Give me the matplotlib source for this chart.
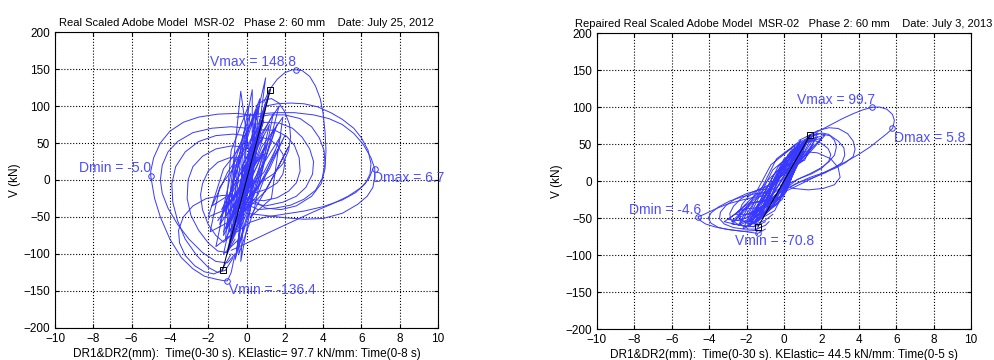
# hysteresis loops V vs D, MSR-02 phase 2, original and repaired model
import matplotlib.pyplot as plt

plt.rcParams['font.family'] = ['Liberation Sans', 'DejaVu Sans']

# ---------------- July 25, 2012 ----------------
left_core_a_x = [0.0, 0.5, -0.2, -0.5, 0.2, 0.8, 0.0, -0.8, 0.1, 1.0, 0.1, -1.0, 0.0,
                 1.2, 0.3, -0.6, 0.3, 0.3, -0.4, -0.9, 0.2, 1.0, 0.2, -0.5, 0.4,
                 -0.3, -0.7, -1.1, -0.1, 0.6, -0.3, -0.7, 0.5, 1.5, 0.4, -0.4, 0.6,
                 1.8, 0.6, -1.2, -0.4, 0.2, -0.8, -1.4, -0.3, 0.9, 0.0, -0.3, 0.2,
                 0.5, -0.5, -1.0, 0.0, 0.4]
left_core_a_y = [0, 50, 10, -45, -5, 80, 20, -75, -15, 105, 35, -100, -25,
                 122, 40, -108, -30, 122, 30, -90, -20, 138, 50, -95, -15,
                 120, 20, -80, -30, 100, 30, -60, -10, 70, 20, -50, -20,
                 60, 10, -70, -25, 90, 10, -60, -20, 80, 20, -110, -40,
                 95, 25, -65, -5, 40]
left_core_b_x = [0.0, 0.3, -0.3, -0.6, 0.1, 0.5, -0.4, -0.9, -0.1, 0.7, -0.2, -0.4, 0.4,
                 1.1, 0.2, -0.7, 0.3, 0.9, -0.5, -1.2, -0.2, 0.4, -0.6, -0.8, 0.0, 0.6]
left_core_b_y = [0, 30, 0, -40, -10, 55, 10, -55, -15, 65, 20, -70, -20,
                 50, 0, -45, -10, 35, -5, -40, -5, 60, 15, -30, 0, 45]
left_core_c_x = [0.6, -0.5, -1.1, 0.0, 0.9, -0.4, -1.3, 0.2, 0.4, -0.6, -0.9, 0.3,
                 1.2, 0.1, -0.8, 0.1, 0.7, -0.2, -0.4, 0.4, 1.4, 0.2, -1.0, -0.2,
                 0.1, -0.8, -1.2, -0.3, 1.0, 0.0, -1.5, -0.5, 0.5]
left_core_c_y = [70, 25, -50, -10, 60, 5, -40, -5, 85, 35, -70, -25,
                 75, 20, -85, -35, 110, 50, -100, -40, 90, 30, -95, -40,
                 100, 40, -75, -30, 45, 0, -55, -15, 30]
left_core_d_x = [1.6, 1.0, 0.0, 0.8, 2.0, 1.2, -0.2, 1.0, 2.2, 1.4, 0.2, 1.3,
                 1.9, 0.8, -0.5, 0.6, 1.7, 0.6, -0.3, 0.9, 1.5]
left_core_d_y = [75, 30, -30, 0, 60, 15, -45, -15, 45, 5, -50, -25,
                 85, 45, -40, -10, 100, 55, -20, 10, 40]
left_core_e_x = [-0.2, -1.0, -1.8, -0.9, 0.0, -1.2, -2.0, -1.1, -0.3, -1.4, -1.9, -0.8,
                 -0.1, -1.1, -1.6, -0.6, 0.2, -0.7, -1.2, -0.4, 0.0]
left_core_e_y = [40, 10, -35, -20, 55, 15, -50, -40, 30, -10, -70, -55,
                 20, -30, -90, -70, 10, -40, -100, -80, -20]
left_loops = [
    ([0.5, -0.5, -1.5, -2.5, -3.3, -4.0, -4.5, -4.85, -5.0, -5.0, -4.8, -4.5, -4.0, -3.4,
      -2.8, -2.2, -1.6, -1.2, -1.0, -0.8, -0.6],
     [87, 90, 89, 85, 78, 66, 50, 30, 12, 5, -25, -50, -80, -105,
      -120, -130, -134, -136, -136.4, -125, -100]),
    ([-0.5, 0.5, 1.5, 2.5, 3.5, 4.3, 5.0, 5.6, 6.1, 6.5, 6.7, 6.7, 6.6, 6.3, 5.8, 5.0,
      4.0, 3.0, 2.0, 1.0, 0.0],
     [85, 89, 91, 91, 88, 83, 75, 63, 48, 30, 15, 5, -10, -22, -33, -45,
      -52, -53, -51, -48, -45]),
    ([0.9, 1.2, 1.6, 2.0, 2.4, 2.6, 2.9, 3.3, 3.6, 3.85, 4.0, 4.1, 4.15, 4.1, 3.9, 3.4,
      2.6, 1.8, 1.0, 0.2],
     [105, 122, 136, 145, 149, 148.8, 148, 140, 127, 110, 90, 65, 40, 15, -5, -22,
      -35, -40, -38, -25]),
    ([1.0, 1.6, 2.3, 3.0, 3.7, 4.4, 5.0, 5.6, 6.0, 6.35, 6.5, 6.45, 6.2, 5.7, 5.0, 4.0,
      3.0, 2.0, 1.0, 0.2, -0.5],
     [100, 103, 104, 103, 99, 91, 82, 70, 57, 40, 22, 8, -5, -17, -27, -36,
      -42, -46, -50, -57, -70]),
    ([-0.8, -0.2, 0.6, 1.5, 2.5, 3.5, 4.5, 5.3, 6.0, 6.4, 6.6],
     [-95, -88, -78, -67, -55, -43, -32, -22, -10, 2, 15]),
    ([0.0, -0.8, -1.8, -2.8, -3.6, -4.1, -4.4, -4.5, -4.4, -4.1, -3.6, -3.0, -2.3, -1.6,
      -1.0, -0.6],
     [70, 72, 70, 64, 52, 38, 20, 0, -18, -38, -60, -80, -98, -110, -112, -100]),
    ([0.0, -0.7, -1.6, -2.5, -3.2, -3.7, -3.9, -3.85, -3.6, -3.2, -2.6, -2.0, -1.5, -1.1, -0.7],
     [60, 62, 60, 52, 38, 18, -5, -30, -55, -80, -102, -118, -125, -122, -105]),
    ([-0.2, -0.8, -1.6, -2.3, -2.8, -3.05, -3.1, -2.9, -2.5, -2.0, -1.5, -1.0, -0.6],
     [45, 46, 42, 32, 18, 0, -25, -48, -68, -85, -96, -98, -80]),
    ([-0.3, -0.9, -1.5, -2.0, -2.3, -2.4, -2.3, -2.0, -1.6, -1.2, -0.8],
     [30, 30, 24, 12, -5, -20, -40, -60, -75, -84, -75]),
    ([-0.5, -1.3, -2.1, -2.8, -3.3, -3.55, -3.5, -3.2, -2.7, -2.2, -1.7, -1.3, -0.8],
     [-20, -21, -25, -35, -50, -68, -85, -102, -116, -124, -127, -122, -100]),
    ([0.5, 1.2, 2.0, 2.8, 3.4, 3.8, 4.05, 4.1, 3.95, 3.6, 3.0, 2.3, 1.5, 0.6, -0.2],
     [85, 88, 88, 83, 72, 57, 40, 22, 2, -14, -26, -34, -38, -40, -30]),
    ([0.4, 1.0, 1.7, 2.4, 2.9, 3.3, 3.5, 3.45, 3.1, 2.6, 1.9, 1.0, 0.0],
     [75, 78, 77, 70, 58, 42, 25, 8, -10, -22, -30, -35, -30]),
    ([0.3, 0.9, 1.5, 2.1, 2.5, 2.75, 2.8, 2.6, 2.2, 1.6, 0.9, 0.2, -0.3],
     [65, 68, 67, 59, 47, 30, 12, -4, -15, -24, -28, -26, -20]),
    ([0.5, 0.9, 1.3, 1.7, 2.0, 2.25, 2.3, 2.2, 1.9, 1.4, 0.8, 0.2, -0.2],
     [100, 108, 110, 104, 92, 75, 58, 40, 22, 8, -2, -4, 0]),
    ([0.2, 0.7, 1.2, 1.6, 1.9, 2.0, 1.9, 1.6, 1.1, 0.5, -0.3],
     [55, 58, 55, 47, 35, 22, 8, -4, -12, -17, -10]),
]
left_peak_x = [2.6, 6.7, -5.0, -1.0]
left_peak_y = [148.8, 15, 5, -136.4]
left_peak_text = ['Vmax = 148.8', 'Dmax = 6.7', 'Dmin = -5.0', 'Vmin = -136.4']
left_kelastic = 97.7
left_kel_d = 1.25

# ---------------- July 3, 2013 (repaired) ----------------
right_core_a_x = [0.0, 0.8, -0.3, -0.9, 0.2, 1.0, -0.2, -1.2, 0.1, 1.2, 0.0, -1.5, -0.1,
                  1.4, 0.1, -1.8, -0.3, 1.0, -0.3, -2.0, -0.6, 0.8, -0.6, -2.2, -0.5,
                  1.5, 0.3, -1.6, -0.1, 1.1, -0.1, -1.3, 0.1, 0.9, -0.5, -1.9, -0.2,
                  1.3, 0.2, -1.0, 0.3, 0.6]
right_core_a_y = [0, 38, 5, -35, -5, 45, 15, -45, -15, 55, 25, -52, -25,
                  62, 30, -60, -30, 50, 20, -62, -35, 45, 15, -65, -40,
                  60, 38, -58, -20, 52, 25, -50, -15, 45, 10, -55, -20,
                  58, 35, -45, -5, 30]
right_core_b_x = [0.0, 0.5, -0.6, -1.5, -0.2, 0.9, -0.4, -1.8, -0.4, 0.7, -0.9, -2.5, -1.0,
                  0.3, -1.2, -2.8, -1.3, 0.0, -1.5, -2.4, -0.8, 0.4]
right_core_b_y = [0, 25, -5, -40, -15, 30, 0, -45, -25, 40, 0, -50, -35,
                  20, -15, -55, -45, 5, -25, -60, -40, 15]
right_core_c_x = [1.2, 0.0, -1.2, 0.0, 1.6, 0.4, -1.6, -0.3, 0.9, -0.4, -2.0, -0.6,
                  1.8, 0.6, -1.4, -0.2, 0.6, -0.7, -2.4, -1.0, 1.1, -0.2, -1.7, -0.4, 0.8]
right_core_c_y = [50, 30, -30, -5, 58, 42, -45, -15, 55, 30, -50, -25,
                  60, 45, -55, -25, 48, 22, -58, -40, 40, 15, -48, -20, 35]
right_core_d_x = [1.5, 0.7, -0.2, 0.6, 2.0, 1.0, 0.0, 0.9, 2.2, 1.2, 0.2, 1.1,
                  1.8, 0.8, -0.3, 0.5, 1.6]
right_core_d_y = [55, 48, 10, 20, 58, 50, 15, 25, 62, 55, 20, 28,
                  65, 52, 5, 15, 50]
right_core_e_x = [-0.5, -1.6, -2.6, -1.5, -0.8, -1.9, -3.0, -1.8, -1.0, -2.2, -3.2, -2.0,
                  -0.6, -1.7, -2.8, -1.6, -0.7]
right_core_e_y = [-10, -20, -45, -45, -25, -30, -52, -55, -35, -38, -55, -62,
                  -25, -30, -58, -62, -20]
right_loops = [
    ([1.4, 1.9, 2.5, 3.1, 3.7, 4.2, 4.7, 5.1, 5.5, 5.8, 5.9, 5.85, 5.8, 5.5, 5.1, 4.6,
      4.0, 3.3, 2.5, 1.7, 0.9, 0.0],
     [62, 68, 76, 84, 91, 96, 99.7, 100, 97, 90, 82, 75, 71, 64, 56, 46,
      36, 26, 16, 6, -4, -15]),
    ([1.2, 1.8, 2.4, 2.9, 3.4, 3.7, 3.8, 3.7, 3.3, 2.8, 2.1, 1.4, 0.6, -0.5],
     [60, 68, 72, 71, 64, 54, 43, 33, 25, 18, 11, 5, -4, -20]),
    ([0.8, 1.3, 1.9, 2.5, 2.9, 3.2, 3.25, 3.1, 2.7, 2.2, 1.5, 0.8, -0.2],
     [55, 61, 64, 61, 54, 45, 35, 25, 18, 11, 4, -2, -15]),
    ([1.0, 1.5, 2.0, 2.4, 2.7, 2.8, 2.7, 2.4, 2.0, 1.4, 0.7, 0.2],
     [50, 60, 65, 63, 55, 46, 35, 26, 18, 10, 2, -8]),
    ([0.5, 1.0, 1.6, 2.0, 2.35, 2.5, 2.4, 2.0, 1.5, 0.9, 0.3, 0.0],
     [48, 53, 55, 51, 44, 36, 27, 17, 10, 4, -3, -10]),
    ([0.2, 1.0, 1.8, 2.5, 2.9, 3.0, 2.7, 2.1, 1.3, 0.5, -0.3],
     [35, 40, 38, 30, 18, 5, -5, -10, -12, -10, -5]),
    ([-1.0, -1.6, -2.3, -3.0, -3.6, -4.1, -4.45, -4.6, -4.5, -4.2, -3.7, -3.1, -2.5,
      -1.9, -1.4, -1.0],
     [-20, -22, -26, -31, -37, -43, -47, -48, -53, -58, -62, -65, -67,
      -69, -70.8, -65]),
    ([-0.8, -1.5, -2.2, -2.9, -3.5, -3.9, -4.05, -3.9, -3.5, -2.9, -2.2, -1.6, -1.2],
     [-15, -17, -21, -27, -35, -43, -50, -57, -63, -66, -68, -67, -62]),
    ([-0.6, -1.3, -2.0, -2.6, -3.1, -3.4, -3.45, -3.2, -2.7, -2.1, -1.5, -1.0, -0.8],
     [-10, -12, -17, -24, -33, -42, -51, -58, -63, -65, -65, -60, -55]),
    ([-0.5, -1.1, -1.7, -2.3, -2.7, -2.9, -2.85, -2.5, -2.0, -1.5, -1.0],
     [-5, -9, -15, -24, -34, -44, -52, -58, -62, -61, -55]),
    ([-0.3, -0.8, -1.4, -1.9, -2.25, -2.4, -2.3, -2.0, -1.5, -1.0, -0.6],
     [0, -5, -12, -21, -32, -43, -52, -57, -58, -53, -45]),
]
right_peak_x = [4.7, 5.8, -4.6, -1.4]
right_peak_y = [99.7, 71, -48, -70.8]
right_peak_text = ['Vmax = 99.7', 'Dmax = 5.8', 'Dmin = -4.6', 'Vmin = -70.8']
right_kelastic = 44.5
right_kel_d = 1.4

line_col = (0.22, 0.22, 1.0)
text_col = (0.3, 0.3, 1.0)


def panel(ax, cores, loops, px, py, ptext, tpos, kel, kd, title, xlabel):
    for cx, cy in cores:
        ax.plot(cx, cy, color=line_col, lw=0.7)
    for lx, ly in loops:
        ax.plot(lx, ly, color=line_col, lw=0.7)
    ax.plot(px, py, 'o', mfc='none', mec=line_col, ms=4, mew=0.7)
    for t, (tx, ty) in zip(ptext, tpos):
        ax.text(tx, ty, t, color=text_col, fontsize=10, ha='left', va='center')
    ax.plot([-kd, kd], [-kd * kel, kd * kel], color='k', lw=0.7)
    ax.plot([-kd, kd], [-kd * kel, kd * kel], 's', mfc='none', mec='k', ms=4, mew=0.7)
    ax.set_xlim(-10, 10)
    ax.set_ylim(-200, 200)
    ax.set_xticks(range(-10, 11, 2))
    ax.set_yticks(range(-200, 201, 50))
    ax.grid(True, color='k', ls=':', lw=0.8)
    ax.tick_params(direction='in', labelsize=8.5, top=True, right=True, length=3)
    for s in ax.spines.values():
        s.set_linewidth(0.8)
    ax.set_title(title, fontsize=8, pad=4)
    ax.set_xlabel(xlabel, fontsize=8.5, labelpad=2)
    ax.set_ylabel('V (kN)', fontsize=8.5, labelpad=2)


fig = plt.figure(figsize=(9.95, 3.6), dpi=100)
ax1 = fig.add_axes([0.0553, 0.0889, 0.3849, 0.8222])
ax2 = fig.add_axes([0.6, 0.0861, 0.3759, 0.8222])

left_cores = [(left_core_a_x, left_core_a_y), (left_core_b_x, left_core_b_y),
              (left_core_c_x, left_core_c_y), (left_core_d_x, left_core_d_y),
              (left_core_e_x, left_core_e_y)]
right_cores = [(right_core_a_x, right_core_a_y), (right_core_b_x, right_core_b_y),
               (right_core_c_x, right_core_c_y), (right_core_d_x, right_core_d_y),
               (right_core_e_x, right_core_e_y)]

panel(ax1, left_cores, left_loops,
      left_peak_x, left_peak_y, left_peak_text,
      [(-1.9, 159), (6.6, 3), (-8.75, 16), (-0.9, -148)],
      left_kelastic, left_kel_d,
      'Real Scaled Adobe Model  MSR-02   Phase 2: 60 mm    Date: July 25, 2012',
      'DR1&DR2(mm):  Time(0-30 s). KElastic= 97.7 kN/mm: Time(0-8 s)')
panel(ax2, right_cores, right_loops,
      right_peak_x, right_peak_y, right_peak_text,
      [(0.7, 109), (5.9, 58), (-8.3, -39), (-2.6, -81)],
      right_kelastic, right_kel_d,
      'Repaired Real Scaled Adobe Model  MSR-02   Phase 2: 60 mm    Date: July 3, 2013',
      'DR1&DR2(mm):  Time(0-30 s). KElastic= 44.5 kN/mm: Time(0-5 s)')

fig.savefig('out.png', dpi=100)
